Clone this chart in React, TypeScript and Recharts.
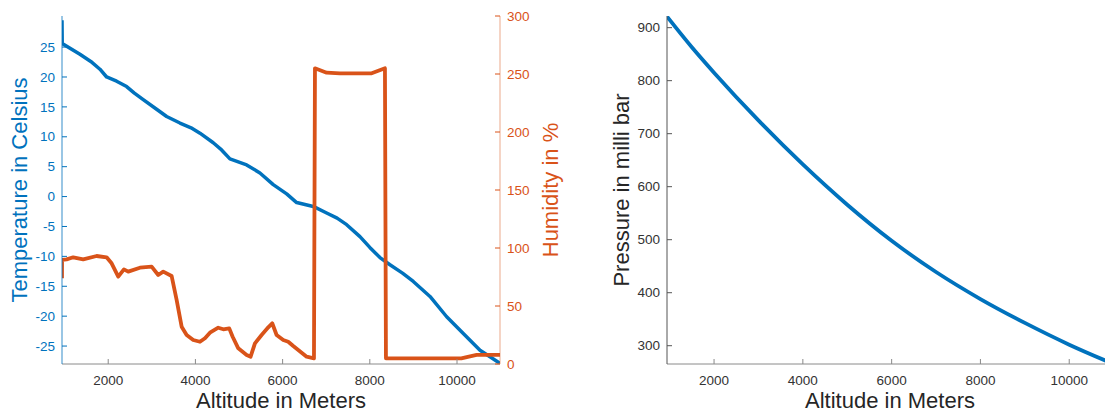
import React from 'react';
import { LineChart, Line, XAxis, YAxis } from 'recharts';

// ---------- data ----------
const tempAltitudes = [940, 945, 1351, 1600, 1810, 1963, 2193, 2422, 2600, 2803, 3110, 3340, 3645, 3900, 4104, 4409, 4600, 4792, 5175, 5480, 5785, 6093, 6322, 6703, 7010, 7250, 7469, 7774, 8000, 8233, 8462, 8750, 8997, 9380, 9763, 10144, 10527, 10756, 10986];
const tempValues = [29.5, 25.6, 23.8, 22.6, 21.3, 20.0, 19.3, 18.4, 17.3, 16.2, 14.6, 13.4, 12.3, 11.5, 10.6, 9.0, 7.8, 6.3, 5.3, 3.95, 2.0, 0.45, -1.0, -1.65, -2.75, -3.6, -4.7, -6.7, -8.5, -10.2, -11.4, -12.8, -14.2, -16.7, -20.1, -22.9, -25.7, -26.8, -27.9];

const humAltitudes = [940, 941, 1046, 1197, 1427, 1734, 1963, 2078, 2230, 2360, 2459, 2727, 2996, 3147, 3262, 3454, 3569, 3684, 3799, 3950, 4104, 4219, 4333, 4524, 4639, 4776, 4854, 4983, 5175, 5266, 5365, 5518, 5671, 5762, 5862, 6014, 6129, 6244, 6551, 6719, 6742, 7010, 7315, 8043, 8347, 8370, 10100, 10222, 10451, 10986];
const humValues = [73.9, 89.7, 90.2, 92, 90.2, 93.1, 92, 86.8, 75.3, 81.6, 79.6, 83, 83.9, 76.7, 79.6, 75.9, 55.2, 32.2, 25, 20.7, 19.2, 22.2, 27, 31.3, 29.9, 30.7, 23.5, 13.5, 7.8, 6.3, 17.8, 25, 31.6, 35.1, 25, 20.7, 19.2, 15.5, 6.3, 4.9, 254.9, 251.1, 250.6, 250.6, 254.9, 4.9, 4.9, 6.0, 7.8, 7.8];

const presAltitudes = [940, 1500, 2000, 3000, 4000, 5000, 6000, 7000, 8000, 9000, 10000, 10986];
const presValues = [921, 863, 815, 725, 642, 566, 498, 439, 388, 343, 302, 266];

const altitudeTicks = [2000, 4000, 6000, 8000, 10000];
const tempTicks = [-25, -20, -15, -10, -5, 0, 5, 10, 15, 20, 25];
const humTicks = [0, 50, 100, 150, 200, 250, 300];
const presTicks = [300, 400, 500, 600, 700, 800, 900];

const altDomain: [number, number] = [940, 10986];
const tempDomain: [number, number] = [-28, 30.2];
const humDomain: [number, number] = [0, 300];
const presDomain: [number, number] = [265.5, 922];

const tempData = tempAltitudes.map((alt, i) => ({ alt, temp: tempValues[i] }));
const humData = humAltitudes.map((alt, i) => ({ alt, hum: humValues[i] }));
const presData = presAltitudes.map((alt, i) => ({ alt, pres: presValues[i] }));

// ---------- style ----------
const FONT = '"Liberation Sans", Arial, Helvetica, sans-serif';
const TICK_FS = 13.5;
const TITLE_FS = 22;
const TICK_LEN = 5;
const BLUE = '#0072BD';
const ORANGE = '#D95319';
const TEXT = '#333333';
const BOX = '#8a8a8a';

const BOTTOM_M = 21;
const SIDE_M = 7;

const bottomTick = (lineColor: string) => (props: any) => {
  const { x, y, payload } = props;
  const axisY = y - BOTTOM_M;
  return (
    <g>
      <line x1={x} x2={x} y1={axisY} y2={axisY - TICK_LEN} stroke={lineColor} strokeWidth={1} />
      <text x={x} y={y} textAnchor="middle" fill={TEXT} fontSize={TICK_FS} fontFamily={FONT}>
        {payload.value}
      </text>
    </g>
  );
};

const topTick = (lineColor: string) => (props: any) => {
  const { x, y } = props;
  const axisY = y + SIDE_M;
  return <line x1={x} x2={x} y1={axisY} y2={axisY + TICK_LEN} stroke={lineColor} strokeWidth={1} />;
};

const leftTick = (lineColor: string, textColor: string) => (props: any) => {
  const { x, y, payload } = props;
  const axisX = x + SIDE_M;
  return (
    <g>
      <line x1={axisX} x2={axisX + TICK_LEN} y1={y} y2={y} stroke={lineColor} strokeWidth={1} />
      <text x={x} y={y} dy={4.7} textAnchor="end" fill={textColor} fontSize={TICK_FS} fontFamily={FONT}>
        {payload.value}
      </text>
    </g>
  );
};

const rightTick = (lineColor: string, textColor: string) => (props: any) => {
  const { x, y, payload } = props;
  const axisX = x - SIDE_M;
  return (
    <g>
      <line x1={axisX} x2={axisX - TICK_LEN} y1={y} y2={y} stroke={lineColor} strokeWidth={1} />
      <text x={x} y={y} dy={4.7} textAnchor="start" fill={textColor} fontSize={TICK_FS} fontFamily={FONT}>
        {payload.value}
      </text>
    </g>
  );
};

const xTitle = (props: any) => {
  const vb = props.viewBox || {};
  const cx = vb.x + vb.width / 2;
  return (
    <text x={cx} y={408} textAnchor="middle" fill="#262626" fontSize={TITLE_FS} fontFamily={FONT}>
      Altitude in Meters
    </text>
  );
};

const yTitle = (text: string, color: string, dxFromAxisBox: number) => (props: any) => {
  const vb = props.viewBox || {};
  const bx = vb.x + dxFromAxisBox;
  const cy = vb.y + vb.height / 2;
  return (
    <text
      x={bx}
      y={cy}
      transform={`rotate(-90, ${bx}, ${cy})`}
      textAnchor="middle"
      fill={color}
      fontSize={TITLE_FS}
      fontFamily={FONT}
    >
      {text}
    </text>
  );
};

export default function App() {
  return (
    <div
      style={{
        position: 'absolute',
        left: 0,
        top: 0,
        width: 1105,
        height: 414,
        overflow: 'hidden',
        background: '#ffffff',
      }}
    >
      {/* Left chart: temperature & humidity */}
      <div style={{ position: 'absolute', left: 0, top: 0 }}>
        <LineChart width={600} height={414} margin={{ top: 16, right: 0, bottom: 0, left: 0 }}>
          <XAxis
            xAxisId="b"
            type="number"
            dataKey="alt"
            domain={altDomain}
            allowDataOverflow
            ticks={altitudeTicks}
            interval={0}
            height={50}
            tickSize={0}
            tickMargin={BOTTOM_M}
            axisLine={{ stroke: BOX }}
            tickLine={false}
            tick={bottomTick(BOX)}
            label={xTitle}
          />
          <XAxis
            xAxisId="t"
            orientation="top"
            type="number"
            dataKey="alt"
            domain={altDomain}
            allowDataOverflow
            ticks={altitudeTicks}
            interval={0}
            height={0}
            tickSize={0}
            tickMargin={SIDE_M}
            axisLine={{ stroke: BOX }}
            tickLine={false}
            tick={topTick(BOX)}
          />
          <YAxis
            yAxisId="temp"
            type="number"
            domain={tempDomain}
            allowDataOverflow
            ticks={tempTicks}
            interval={0}
            width={62}
            tickSize={0}
            tickMargin={SIDE_M}
            axisLine={{ stroke: BLUE, strokeOpacity: 0.8 }}
            tickLine={false}
            tick={leftTick(BLUE, BLUE)}
            label={yTitle('Temperature in Celsius', BLUE, 26.5)}
          />
          <YAxis
            yAxisId="hum"
            orientation="right"
            type="number"
            domain={humDomain}
            allowDataOverflow
            ticks={humTicks}
            interval={0}
            width={100}
            tickSize={0}
            tickMargin={SIDE_M}
            axisLine={{ stroke: ORANGE, strokeOpacity: 0.5 }}
            tickLine={false}
            tick={rightTick(ORANGE, ORANGE)}
            label={yTitle('Humidity in %', ORANGE, 58)}
          />
          <Line
            xAxisId="b"
            yAxisId="temp"
            data={tempData}
            dataKey="temp"
            type="linear"
            stroke={BLUE}
            strokeWidth={3.5}
            strokeLinejoin="round"
            dot={false}
            activeDot={false}
            isAnimationActive={false}
          />
          <Line
            xAxisId="b"
            yAxisId="hum"
            data={humData}
            dataKey="hum"
            type="linear"
            stroke={ORANGE}
            strokeWidth={3.8}
            strokeLinejoin="round"
            dot={false}
            activeDot={false}
            isAnimationActive={false}
          />
        </LineChart>
      </div>

      {/* Right chart: pressure */}
      <div style={{ position: 'absolute', left: 567, top: 0 }}>
        <LineChart width={546} height={414} margin={{ top: 16, right: 0, bottom: 0, left: 0 }}>
          <XAxis
            xAxisId="b"
            type="number"
            dataKey="alt"
            domain={altDomain}
            allowDataOverflow
            ticks={altitudeTicks}
            interval={0}
            height={50}
            tickSize={0}
            tickMargin={BOTTOM_M}
            axisLine={{ stroke: BOX }}
            tickLine={false}
            tick={bottomTick(BOX)}
            label={xTitle}
          />
          <XAxis
            xAxisId="t"
            orientation="top"
            type="number"
            dataKey="alt"
            domain={altDomain}
            allowDataOverflow
            ticks={altitudeTicks}
            interval={0}
            height={0}
            tickSize={0}
            tickMargin={SIDE_M}
            axisLine={{ stroke: BOX }}
            tickLine={false}
            tick={topTick(BOX)}
          />
          <YAxis
            yAxisId="p"
            type="number"
            domain={presDomain}
            allowDataOverflow
            ticks={presTicks}
            interval={0}
            width={100}
            tickSize={0}
            tickMargin={SIDE_M}
            axisLine={{ stroke: '#555555' }}
            tickLine={false}
            tick={leftTick('#555555', TEXT)}
            label={yTitle('Pressure in milli bar', '#262626', 61.5)}
          />
          <Line
            xAxisId="b"
            yAxisId="p"
            data={presData}
            dataKey="pres"
            type="monotone"
            stroke={BLUE}
            strokeWidth={3.8}
            dot={false}
            activeDot={false}
            isAnimationActive={false}
          />
        </LineChart>
      </div>
    </div>
  );
}
